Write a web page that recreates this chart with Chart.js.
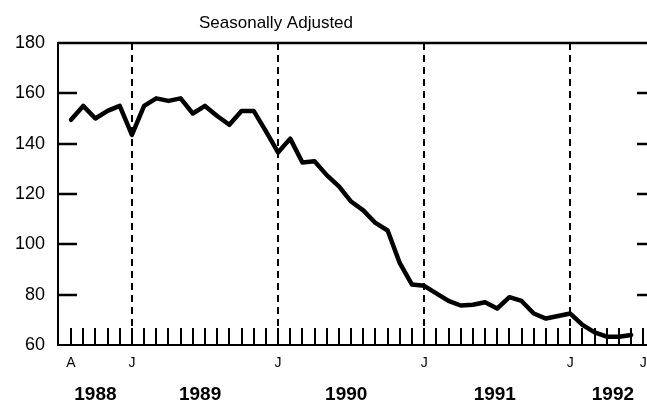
<!DOCTYPE html>
<html>
<head>
<meta charset="utf-8">
<script src="https://cdn.jsdelivr.net/npm/chart.js@4/dist/chart.umd.min.js"></script>
<style>
html,body{margin:0;padding:0;background:#fff;}
#wrap{width:647px;height:404px;position:relative;}
</style>
</head>
<body>
<div id="wrap"><canvas id="c" width="647" height="404"></canvas></div>
<script>
// Month index 0 = Aug 1988
const months = ['Aug 1988','Sep 1988','Oct 1988','Nov 1988','Dec 1988',
 'Jan 1989','Feb 1989','Mar 1989','Apr 1989','May 1989','Jun 1989','Jul 1989','Aug 1989','Sep 1989','Oct 1989','Nov 1989','Dec 1989',
 'Jan 1990','Feb 1990','Mar 1990','Apr 1990','May 1990','Jun 1990','Jul 1990','Aug 1990','Sep 1990','Oct 1990','Nov 1990','Dec 1990',
 'Jan 1991','Feb 1991','Mar 1991','Apr 1991','May 1991','Jun 1991','Jul 1991','Aug 1991','Sep 1991','Oct 1991','Nov 1991','Dec 1991',
 'Jan 1992','Feb 1992','Mar 1992','Apr 1992','May 1992','Jun 1992'];
const values = [149.5,155,150,153,155,
 143.5,155,158,157,158,152,155,151,147.5,153,153,145,
 136.5,142,132.5,133,127.5,123,117,113.5,108.5,105.5,92.5,84,
 83.5,80.5,77.5,75.7,76,77,74.5,79,77.5,72.5,70.5,71.5,
 72.5,68,65,63.3,63.3,64];
const monthLetterPos = [0,5,17,29,41,47];
const monthLetters = ['A','J','J','J','J','J'];
const yearPos = [2,10.6,22.6,34.8,44.5];
const yearLabels = ['1988','1989','1990','1991','1992'];
const yearBoundaries = [5,17,29,41];
const yTickValues = [80,100,120,140,160];
const monthTickRange = [0,47];
const titleText = 'Seasonally Adjusted';

const FONT = "'Liberation Sans', Arial, Helvetica, sans-serif";

const decor = {
  id:'decor',
  beforeDatasetsDraw(chart){
    const ctx = chart.ctx, x = chart.scales.x, y = chart.scales.y, a = chart.chartArea;
    ctx.save();
    ctx.strokeStyle = '#000';
    ctx.lineWidth = 2;
    ctx.setLineDash([7,5]);
    yearBoundaries.forEach(m=>{
      const px = Math.round(x.getPixelForValue(m));
      ctx.beginPath(); ctx.moveTo(px, a.top); ctx.lineTo(px, a.bottom); ctx.stroke();
    });
    ctx.setLineDash([]);
    ctx.lineWidth = 2;
    for(let m=monthTickRange[0]; m<=monthTickRange[1]; m++){
      const px = Math.round(x.getPixelForValue(m));
      ctx.beginPath(); ctx.moveTo(px, a.bottom); ctx.lineTo(px, a.bottom-17); ctx.stroke();
    }
    ctx.lineWidth = 2.5;
    yTickValues.forEach(v=>{
      const py = Math.round(y.getPixelForValue(v));
      ctx.beginPath(); ctx.moveTo(a.left, py); ctx.lineTo(a.left+19, py); ctx.stroke();
      ctx.beginPath(); ctx.moveTo(a.right-10, py); ctx.lineTo(a.right, py); ctx.stroke();
    });
    ctx.lineWidth = 2.5;
    ctx.beginPath(); ctx.moveTo(a.left, a.top); ctx.lineTo(a.right, a.top); ctx.stroke();
    ctx.fillStyle = '#000';
    ctx.font = '17px ' + FONT;
    ctx.textAlign = 'center';
    ctx.textBaseline = 'alphabetic';
    ctx.fillText(titleText, 276, 28);
    ctx.restore();
  }
};

function noPad(s){ s.paddingLeft = 0; s.paddingRight = 0; }

new Chart(document.getElementById('c'), {
  type:'line',
  data:{
    datasets:[{
      data: values.map((v,i)=>({x:i, y:v})),
      borderColor:'#000',
      borderWidth:4.5,
      pointRadius:0,
      tension:0,
      borderJoinStyle:'round',
      borderCapStyle:'round',
      fill:false
    }]
  },
  options:{
    responsive:false,
    animation:false,
    devicePixelRatio:1,
    layout:{padding:{top:43,left:0,right:0,bottom:0}, autoPadding:false},
    plugins:{legend:{display:false}, tooltip:{enabled:false}, title:{display:false}},
    scales:{
      x:{
        type:'linear', position:'bottom', weight:0,
        min:-1.07, max:47.3,
        grid:{display:false, drawTicks:false},
        border:{display:true, color:'#000', width:2},
        afterBuildTicks(s){ s.ticks = monthLetterPos.map(v=>({value:v})); },
        ticks:{
          autoSkip:false, maxRotation:0, color:'#000', padding:10,
          font:{size:14, family:FONT},
          callback:(v)=>{ const i = monthLetterPos.indexOf(v); return i>=0 ? monthLetters[i] : ''; }
        },
        afterFit(s){ s.height = 28; noPad(s); }
      },
      x2:{
        type:'linear', position:'bottom', weight:1,
        min:-1.07, max:47.3,
        grid:{display:false, drawTicks:false},
        border:{display:false},
        afterBuildTicks(s){ s.ticks = yearPos.map(v=>({value:v})); },
        ticks:{
          autoSkip:false, maxRotation:0, color:'#000', padding:10,
          font:{size:19, weight:'bold', family:FONT},
          callback:(v)=>{ const i = yearPos.indexOf(v); return i>=0 ? yearLabels[i] : ''; }
        },
        afterFit(s){ s.height = 31; noPad(s); }
      },
      y:{
        min:60, max:180,
        grid:{display:false, drawTicks:false},
        border:{display:true, color:'#000', width:2},
        ticks:{stepSize:20, color:'#000', padding:13, font:{size:18, family:FONT}},
        afterFit(s){ s.width = 58; s.paddingTop = 0; s.paddingBottom = 0; }
      }
    }
  },
  plugins:[decor]
});
</script>
</body>
</html>
